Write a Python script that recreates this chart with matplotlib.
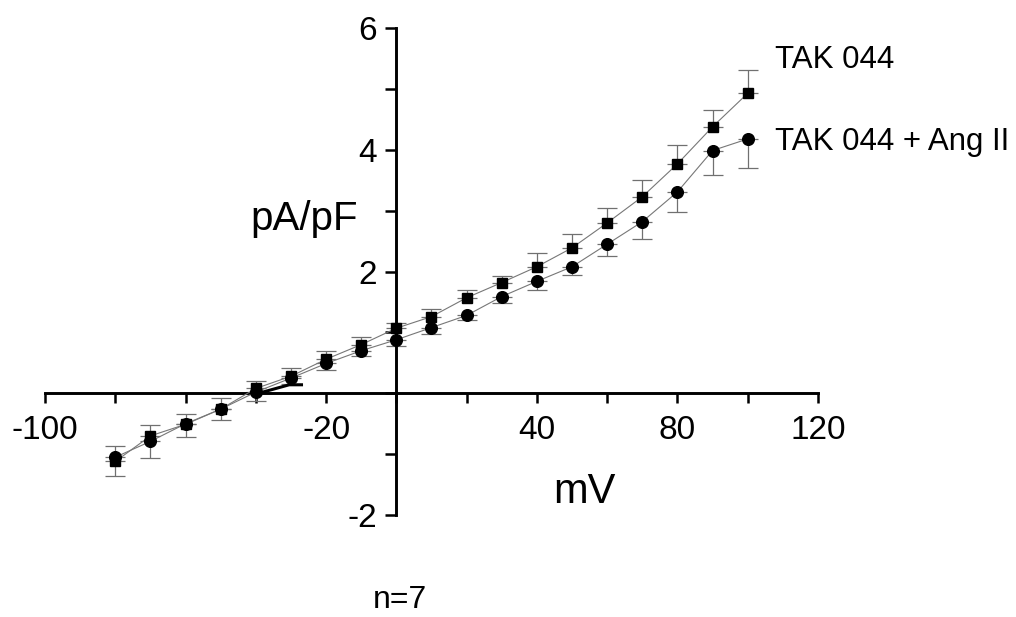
import matplotlib
matplotlib.use("Agg")
from matplotlib import pyplot as plt

plt.rcParams['font.family'] = ['Liberation Sans', 'DejaVu Sans']

# membrane potential steps (mV)
voltages = [-80, -70, -60, -50, -40, -30, -20, -10, 0, 10, 20, 30, 40, 50, 60, 70, 80, 90, 100]

# TAK 044 (squares) and its upward SEM
tak = [-1.12, -0.70, -0.51, -0.26, 0.08, 0.28, 0.56, 0.80, 1.07, 1.26, 1.57, 1.82, 2.08, 2.39, 2.80, 3.23, 3.77, 4.38, 4.93]
tak_err = [0.25, 0.18, 0.17, 0.19, 0.13, 0.13, 0.13, 0.13, 0.09, 0.12, 0.13, 0.11, 0.22, 0.23, 0.25, 0.28, 0.31, 0.28, 0.38]

# TAK 044 + Ang II (circles) and its downward SEM
tak_ang = [-1.05, -0.79, -0.50, -0.26, 0.02, 0.25, 0.49, 0.70, 0.88, 1.08, 1.28, 1.59, 1.84, 2.08, 2.45, 2.82, 3.31, 3.99, 4.18]
tak_ang_err = [0.31, 0.28, 0.22, 0.18, 0.15, 0.10, 0.10, 0.09, 0.11, 0.10, 0.08, 0.11, 0.15, 0.14, 0.19, 0.28, 0.33, 0.40, 0.48]

# short bold stroke near the reversal potential
stroke_x = [-38, -30.5, -27]
stroke_y = [0.02, 0.14, 0.14]

x_ticks = [-100, -80, -60, -40, -20, 0, 20, 40, 60, 80, 100, 120]
x_labels = ['-100', '', '', '', '-20', '', '', '40', '', '80', '', '120']
y_ticks = [-2, -1, 0, 1, 2, 3, 4, 5, 6]
y_labels = ['-2', '', '', '', '2', '', '4', '', '6']

fig = plt.figure(figsize=(10.16, 6.17), dpi=100)
ax = fig.add_axes([0.0443, 0.1653, 0.7608, 0.789])

zeros = [0] * len(voltages)
ax.errorbar(voltages, tak, yerr=[zeros, tak_err], fmt='none', ecolor='#707070',
            elinewidth=0.9, capsize=7, capthick=0.9, zorder=2)
ax.errorbar(voltages, tak_ang, yerr=[tak_ang_err, zeros], fmt='none', ecolor='#707070',
            elinewidth=0.9, capsize=7, capthick=0.9, zorder=2)
ax.plot(voltages, tak, color='#777777', lw=0.8, zorder=3)
ax.plot(voltages, tak_ang, color='#777777', lw=0.8, zorder=3)
ax.plot(voltages, tak, 's', color='black', markersize=7, zorder=4)
ax.plot(voltages, tak_ang, 'o', color='black', markersize=8.4, zorder=4)
ax.plot(stroke_x, stroke_y, color='black', lw=2.2, zorder=5)

ax.set_xlim(-100, 120)
ax.set_ylim(-2, 6)
for side in ['top', 'right']:
    ax.spines[side].set_visible(False)
ax.spines['left'].set_position(('data', 0))
ax.spines['bottom'].set_position(('data', 0))
for side in ['left', 'bottom']:
    ax.spines[side].set_linewidth(2.1)

ax.set_xticks(x_ticks)
ax.set_xticklabels(x_labels)
ax.set_yticks(y_ticks)
ax.set_yticklabels(y_labels)
ax.tick_params(axis='x', direction='out', length=7.5, width=1.8, pad=8, labelsize=24)
ax.tick_params(axis='y', direction='out', length=8, width=1.8, pad=6, labelsize=24)

fig.text(250 / 1016, 1 - 230 / 617, 'pA/pF', fontsize=29, ha='left', va='baseline')
fig.text(553 / 1016, 1 - 503 / 617, 'mV', fontsize=30, ha='left', va='baseline')
fig.text(373 / 1016, 1 - 608 / 617, 'n=7', fontsize=23, ha='left', va='baseline')
fig.text(775 / 1016, 1 - 68 / 617, 'TAK 044', fontsize=22.5, ha='left', va='baseline')
fig.text(775 / 1016, 1 - 150 / 617, 'TAK 044 + Ang II', fontsize=22.5, ha='left', va='baseline')

fig.savefig('out.png', dpi=100)
